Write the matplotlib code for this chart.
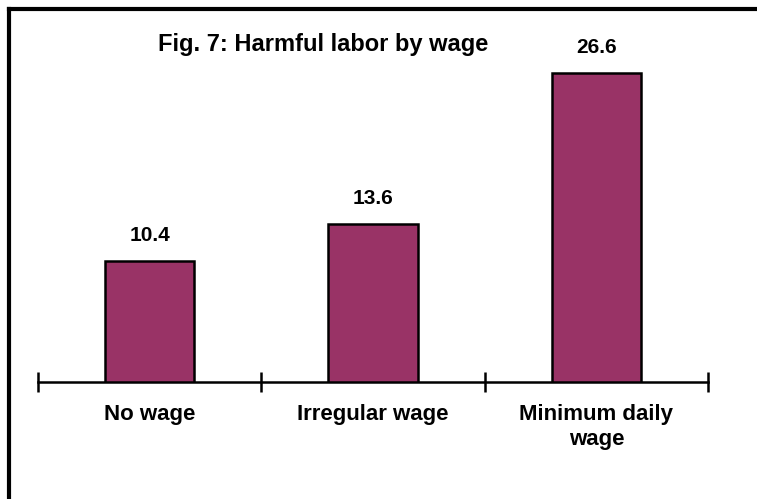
import numpy as np
import matplotlib.pyplot as plt
from matplotlib.lines import Line2D

# Данные
categories = ['No wage', 'Irregular wage', 'Minimum daily\nwage']
values = [10.4, 13.6, 26.6]

plt.rcParams['font.family'] = ['Liberation Sans', 'DejaVu Sans']

fig = plt.figure(figsize=(7.57, 4.99), dpi=100)
ax = fig.add_axes([38 / 757, 117 / 499, 670 / 757, 348 / 499])

x = np.arange(len(categories))
ax.bar(x, values, width=0.4, color='#993366', edgecolor='black', linewidth=1.8, zorder=3)

for xi, v in zip(x, values):
    ax.text(xi, v + 1.4, f'{v:.1f}', ha='center', va='bottom',
            fontsize=15, fontweight='bold')

ax.set_xlim(-0.5, len(categories) - 0.5)
ax.set_ylim(0, 30)

for s in ['top', 'right', 'left']:
    ax.spines[s].set_visible(False)
ax.spines['bottom'].set_linewidth(1.8)
ax.set_yticks([])

ax.set_xticks(x)
ax.set_xticklabels(categories, fontsize=16, fontweight='bold', linespacing=1.25)
ax.tick_params(axis='x', which='major', length=0, pad=16)
ax.set_xticks(np.arange(-0.5, len(categories)), minor=True)
ax.tick_params(axis='x', which='minor', direction='inout', length=14, width=1.8)

fig.text(323 / 757, 1 - 45 / 499, 'Fig. 7: Harmful labor by wage', ha='center', va='center',
         fontsize=17, fontweight='bold')

# рамка (видны только верх и левый край)
fig.add_artist(Line2D([9 / 757, 9 / 757], [0, 1 - 9 / 499], transform=fig.transFigure,
                      color='black', linewidth=3))
fig.add_artist(Line2D([9 / 757, 1], [1 - 9 / 499, 1 - 9 / 499], transform=fig.transFigure,
                      color='black', linewidth=3))

fig.savefig('out.png', dpi=100)
